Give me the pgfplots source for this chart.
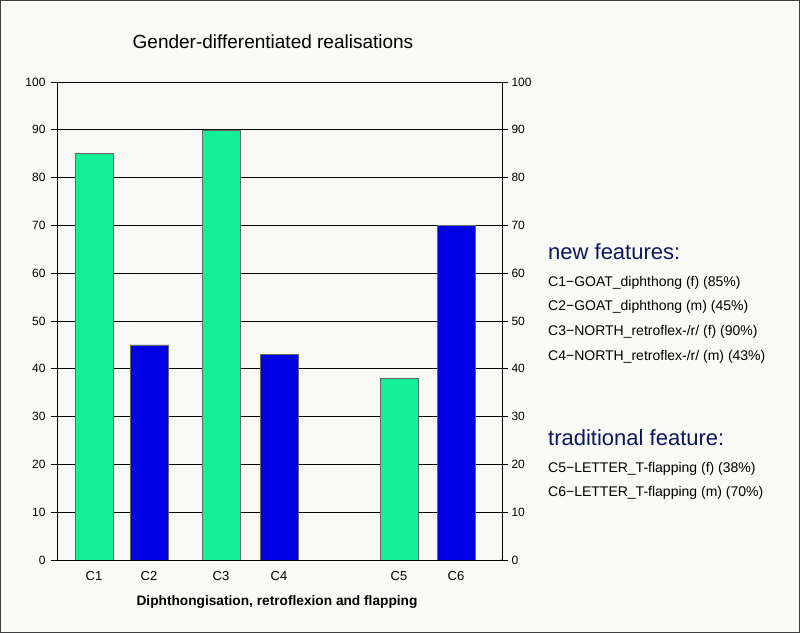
\documentclass[border=0pt]{standalone}
\usepackage{pgfplots}
\pgfplotsset{compat=1.18}
\usepackage{fontspec}
\setmainfont{Liberation Sans}
\definecolor{bg}{RGB}{249,249,246}
\definecolor{bargreen}{RGB}{20,240,150}
\definecolor{barblue}{RGB}{0,0,228}
\definecolor{navy}{RGB}{12,22,95}
\begin{document}
\begin{tikzpicture}[x=1bp,y=1bp]
\fill[bg] (0,0) rectangle (800,633);
\draw[black!75, line width=1.2bp] (0.6,0.6) rectangle (799.4,632.4);
\begin{axis}[
  at={(57bp,73bp)}, anchor=south west,
  scale only axis, width=445bp, height=478bp,
  xmin=57, xmax=502, ymin=0, ymax=100,
  /pgf/number format/assume math mode=true,
  ytick={0,10,...,100}, ytick pos=left,
  ymajorgrids, grid style={black, line width=0.9bp},
  tick align=outside, major tick length=6bp,
  y tick style={black, line width=0.8bp},
  xtick={94,149,221,279,399,456},
  xticklabels={C1,C2,C3,C4,C5,C6},
  x tick style={draw=none},
  axis line style={black, line width=0.9bp},
  tick label style={font=\fontsize{12bp}{14bp}\selectfont},
  xticklabel style={font=\fontsize{13bp}{15bp}\selectfont, yshift=-2bp},
  yticklabel style={xshift=-2bp},
]
\addplot[ybar, bar width=38, fill=bargreen, draw=black!60, line width=0.5bp] coordinates {(94,85) (221,90) (399,38)};
\addplot[ybar, bar width=38, fill=barblue, draw=black!60, line width=0.5bp] coordinates {(149,45) (279,43) (456,70)};
\draw[black, line width=0.9bp] (axis cs:57,0) -- ++(0,-15bp);
\draw[black, line width=0.9bp] (axis cs:502,0) -- ++(0,-15bp);
\end{axis}
\begin{axis}[
  at={(57bp,73bp)}, anchor=south west,
  scale only axis, width=445bp, height=478bp,
  xmin=57, xmax=502, ymin=0, ymax=100,
  /pgf/number format/assume math mode=true,
  axis x line=none, axis y line*=right,
  ytick={0,10,...,100},
  tick align=outside, major tick length=6bp,
  y tick style={black, line width=0.8bp},
  axis line style={black, line width=0.9bp},
  tick label style={font=\fontsize{12bp}{14bp}\selectfont},
  yticklabel style={xshift=0bp},
]
\end{axis}
\node[font=\fontsize{19bp}{22bp}\selectfont] at (273,591) {Gender-differentiated realisations};
\node[font=\bfseries\fontsize{13.7bp}{16bp}\selectfont] at (277,31) {Diphthongisation, retroflexion and flapping};
\begin{scope}[every node/.style={anchor=west, inner sep=0pt}]
\node[font=\fontsize{22bp}{26bp}\selectfont, text=navy] at (548,381) {new features:};
\node[font=\fontsize{14bp}{16bp}\selectfont] at (548,350) {C1−GOAT\_diphthong (f) (85\%)};
\node[font=\fontsize{14bp}{16bp}\selectfont] at (548,326) {C2−GOAT\_diphthong (m) (45\%)};
\node[font=\fontsize{14bp}{16bp}\selectfont] at (548,301) {C3−NORTH\_retroflex-/r/ (f) (90\%)};
\node[font=\fontsize{14bp}{16bp}\selectfont] at (548,276) {C4−NORTH\_retroflex-/r/ (m) (43\%)};
\node[font=\fontsize{22bp}{26bp}\selectfont, text=navy] at (548,195) {traditional feature:};
\node[font=\fontsize{14bp}{16bp}\selectfont] at (548,164) {C5−LETTER\_T-flapping (f) (38\%)};
\node[font=\fontsize{14bp}{16bp}\selectfont] at (548,140) {C6−LETTER\_T-flapping (m) (70\%)};
\end{scope}
\end{tikzpicture}
\end{document}
